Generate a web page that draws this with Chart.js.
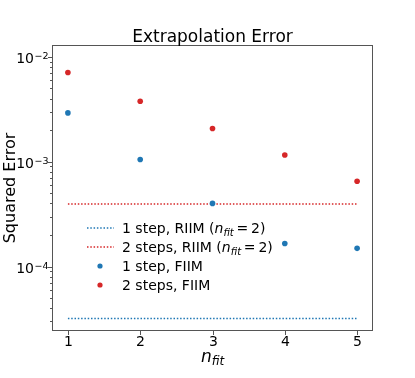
<!DOCTYPE html>
<html>
<head>
<meta charset="utf-8">
<script src="https://cdn.jsdelivr.net/npm/chart.js@4"></script>
<style>body{margin:0;background:#fff}</style>
</head>
<body>
<canvas id="chart" width="415" height="378"></canvas>
<script>
// values
const nFit = [1, 2, 3, 4, 5];
const oneStepFIIM = [2.92e-3, 1.05e-3, 4.0e-4, 1.66e-4, 1.49e-4];
const twoStepsFIIM = [7.1e-3, 3.77e-3, 2.07e-3, 1.16e-3, 6.5e-4];
const riimX = [1, 5];
const oneStepRIIM = [3.2e-5, 3.2e-5];
const twoStepsRIIM = [3.94e-4, 3.94e-4];
const xTicks = [1, 2, 3, 4, 5];
const yTicks = [1e-4, 1e-3, 1e-2];
const yExps = ["\u22124", "\u22123", "\u22122"];

const blue = "#1f77b4";
const red = "#d62728";
const FONT = '"DejaVu Sans"';

const pts = (xs, ys) => xs.map((x, i) => ({ x: x, y: ys[i] }));

// legend entries: [kind, color, text, mathtext?]
const legendItems = [
  ["line", blue, "1 step, RIIM (", true],
  ["line", red, "2 steps, RIIM (", true],
  ["dot", blue, "1 step, FIIM", false],
  ["dot", red, "2 steps, FIIM", false],
];

// draws "n" with italic "fit" subscript, returns end x
function drawNfit(ctx, x, y, size, subSize) {
  ctx.font = "oblique " + size + "px " + FONT;
  ctx.fillText("n", x, y);
  x += ctx.measureText("n").width;
  ctx.font = "oblique " + subSize + "px " + FONT;
  ctx.fillText("fit", x, y + size * 0.2);
  return x + ctx.measureText("fit").width;
}

const decor = {
  id: "decor",
  afterDraw(chart) {
    const ctx = chart.ctx;
    const a = chart.chartArea;
    const xs = chart.scales.x;
    const ys = chart.scales.y;
    ctx.save();

    // frame
    ctx.strokeStyle = "#555";
    ctx.lineWidth = 1;
    ctx.strokeRect(a.left + 0.5, a.top + 0.5, a.right - a.left - 1, a.bottom - a.top - 1);

    ctx.fillStyle = "#000";
    ctx.strokeStyle = "#555";

    // x ticks
    ctx.textAlign = "center";
    ctx.textBaseline = "alphabetic";
    xTicks.forEach(v => {
      const px = Math.round(xs.getPixelForValue(v)) + 0.5;
      ctx.beginPath();
      ctx.moveTo(px, a.bottom);
      ctx.lineTo(px, a.bottom + 4);
      ctx.stroke();
      ctx.font = "14px " + FONT;
      ctx.fillText(String(v), px, a.bottom + 15);
    });

    // y minor ticks
    for (let d = -5; d <= -2; d++) {
      for (let k = 2; k <= 9; k++) {
        const v = k * Math.pow(10, d);
        if (v < ys.min || v > ys.max) continue;
        const py = Math.round(ys.getPixelForValue(v)) + 0.5;
        ctx.beginPath();
        ctx.moveTo(a.left, py);
        ctx.lineTo(a.left - 2, py);
        ctx.stroke();
      }
    }
    // y major ticks with labels
    yTicks.forEach((v, i) => {
      const py = Math.round(ys.getPixelForValue(v)) + 0.5;
      ctx.beginPath();
      ctx.moveTo(a.left, py);
      ctx.lineTo(a.left - 4, py);
      ctx.stroke();
      ctx.textAlign = "left";
      ctx.font = "9.5px " + FONT;
      const ew = ctx.measureText(yExps[i]).width;
      ctx.font = "14px " + FONT;
      const bw = ctx.measureText("10").width;
      const x0 = a.left - 4 - ew - bw;
      ctx.fillText("10", x0, py + 5.5);
      ctx.font = "9.5px " + FONT;
      ctx.fillText(yExps[i], x0 + bw + 0.5, py + 1);
    });

    // title
    ctx.textAlign = "center";
    ctx.font = "17px " + FONT;
    ctx.fillText("Extrapolation Error", (a.left + a.right) / 2, a.top - 3);

    // y axis title
    ctx.save();
    ctx.translate(15, (a.top + a.bottom) / 2);
    ctx.rotate(-Math.PI / 2);
    ctx.font = "16px " + FONT;
    ctx.fillText("Squared Error", 0, 0);
    ctx.restore();

    // x axis title
    ctx.textAlign = "left";
    ctx.font = "oblique 17px " + FONT;
    const nw = ctx.measureText("n").width;
    ctx.font = "oblique 12px " + FONT;
    const fw = ctx.measureText("fit").width;
    drawNfit(ctx, (a.left + a.right) / 2 - (nw + fw) / 2, 362, 17, 12);

    // legend
    legendItems.forEach((it, i) => {
      const cy = 228 + i * 19;
      if (it[0] === "line") {
        ctx.save();
        ctx.strokeStyle = it[1];
        ctx.lineWidth = 1.5;
        ctx.setLineDash([1.5, 1.8]);
        ctx.beginPath();
        ctx.moveTo(87, cy);
        ctx.lineTo(114, cy);
        ctx.stroke();
        ctx.restore();
      } else {
        ctx.fillStyle = it[1];
        ctx.beginPath();
        ctx.arc(100, cy, 2.6, 0, Math.PI * 2);
        ctx.fill();
      }
      ctx.fillStyle = "#000";
      ctx.textAlign = "left";
      ctx.font = "14px " + FONT;
      let x = 122;
      ctx.fillText(it[2], x, cy + 5);
      if (it[3]) {
        x += ctx.measureText(it[2]).width;
        x = drawNfit(ctx, x, cy + 5, 14, 10);
        ctx.font = "14px " + FONT;
        ctx.fillText("\u2009=\u20092)", x, cy + 5);
      }
    });

    ctx.restore();
  }
};

new Chart(document.getElementById("chart"), {
  type: "scatter",
  data: {
    datasets: [
      {
        label: "1 step, RIIM",
        data: pts(riimX, oneStepRIIM),
        showLine: true,
        borderColor: blue,
        borderWidth: 1.5,
        borderDash: [1.5, 1.8],
        pointRadius: 0,
        order: 2,
      },
      {
        label: "2 steps, RIIM",
        data: pts(riimX, twoStepsRIIM),
        showLine: true,
        borderColor: red,
        borderWidth: 1.5,
        borderDash: [1.5, 1.8],
        pointRadius: 0,
        order: 2,
      },
      {
        label: "1 step, FIIM",
        data: pts(nFit, oneStepFIIM),
        backgroundColor: blue,
        borderWidth: 0,
        pointRadius: 2.8,
        order: 1,
      },
      {
        label: "2 steps, FIIM",
        data: pts(nFit, twoStepsFIIM),
        backgroundColor: red,
        borderWidth: 0,
        pointRadius: 2.8,
        order: 1,
      },
    ],
  },
  options: {
    responsive: false,
    animation: false,
    layout: { padding: { top: 45, right: 42, left: 0, bottom: 0 } },
    plugins: {
      legend: { display: false },
      tooltip: { enabled: false },
    },
    scales: {
      x: {
        type: "linear",
        min: 0.78,
        max: 5.22,
        grid: { display: false },
        border: { display: false },
        ticks: { display: false },
        afterFit: (s) => { s.height = 47; },
      },
      y: {
        type: "logarithmic",
        min: Math.pow(10, -4.615),
        max: Math.pow(10, -1.887),
        grid: { display: false },
        border: { display: false },
        ticks: { display: false },
        afterFit: (s) => { s.width = 52; },
      },
    },
  },
  plugins: [decor],
});
</script>
</body>
</html>
